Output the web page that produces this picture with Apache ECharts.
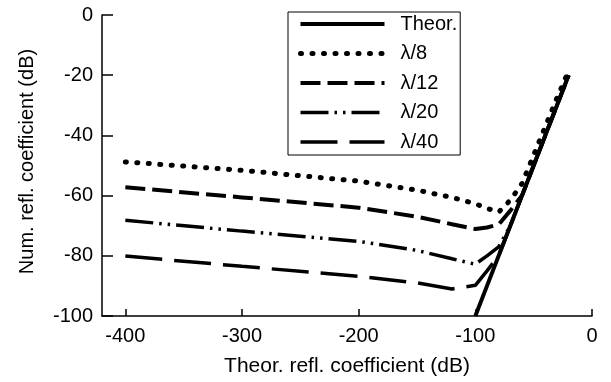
<!DOCTYPE html>
<html>
<head>
<meta charset="utf-8">
<title>refl. coefficient</title>
<script src="https://cdn.jsdelivr.net/npm/echarts@6/dist/echarts.min.js"></script>
<style>
    html, body { margin: 0; padding: 0; background: #fff; }
    #placeholder { width: 611px; height: 382px; }
</style>
</head>
<body>
<div id="placeholder"></div>
<script>
// theoretical refl. coefficient (dB), shared x for all curves
var xData = [-400, -300, -200, -150, -120, -100, -90, -80, -70, -60, -50, -40, -30, -20];
var theor = [null, null, null, null, null, -100, -90, -80, -70, -60, -50, -40, -30, -20];
var lambda8 = [-48.8, -51.6, -55.2, -58.2, -60.6, -62.7, -64.2, -65.5, -61.5, -56, -46.5, -37, -27.5, -18.5];
var lambda12 = [-57.2, -60.6, -64, -67, -69.5, -71.1, -70.6, -69.6, -65, -60, -50, -40, -30, -20];
var lambda20 = [-68.2, -71.8, -75.2, -78.2, -81, -82.8, -80, -77, -70, -60, -50, -40, -30, -20];
var lambda40 = [-80.1, -83.5, -86.8, -89, -91, -89.8, -85, -80, -70, -60, -50, -40, -30, -20];
var xTicks = [-400, -300, -200, -100, 0];
var seriesNames = ['Theor.', 'λ/8', 'λ/12', 'λ/20', 'λ/40'];

(function () {

    'use strict'

    var FONT = '"Liberation Sans", Arial, sans-serif';

    // line looks per name: width, dash, cap
    var looks = {
        'Theor.': { width: 4, type: 'solid', cap: 'butt' },
        'λ/8': { width: 5, type: [1, 10.5], cap: 'round' },
        'λ/12': { width: 4, type: [20, 7], cap: 'butt' },
        'λ/20': { width: 3.5, type: [28, 6, 2.5, 6, 2.5, 6], cap: 'butt' },
        'λ/40': { width: 3.5, type: [37, 12], cap: 'butt' }
    };

    function pairs(ys) {
        var out = [];
        xData.forEach(function (x, i) {
            out.push([x, ys[i]]);
        });
        return out;
    }

    function curve(name, ys) {
        var lk = looks[name];
        return {
            name: name,
            type: 'line',
            symbol: 'none',
            clip: false,
            data: pairs(ys),
            itemStyle: { color: '#000' },
            lineStyle: { color: '#000', width: lk.width, type: lk.type, cap: lk.cap },
            emphasis: { disabled: true }
        };
    }

    var legendData = seriesNames.map(function (n) {
        var lk = looks[n];
        return {
            name: n,
            itemStyle: { opacity: 0 },
            lineStyle: { color: '#000', width: lk.width, type: lk.type, cap: lk.cap }
        };
    });

    var myChart = echarts.init(document.getElementById('placeholder'));
    var option = {
        animation: false,
        backgroundColor: '#fff',
        textStyle: { fontFamily: FONT, color: '#000' },
        grid: { left: 102, right: 19, top: 15, bottom: 65 },
        legend: {
            orient: 'vertical',
            left: 288,
            top: 12,
            padding: [2, 3, 3, 10],
            borderColor: '#000',
            borderWidth: 1,
            itemWidth: 84,
            itemHeight: 20,
            itemGap: 9.5,
            selectedMode: false,
            data: legendData,
            textStyle: { fontSize: 20, color: '#000', fontFamily: FONT, padding: [0, 0, 0, 11] }
        },
        xAxis: {
            type: 'value',
            min: -420,
            max: 0,
            name: 'Theor. refl. coefficient (dB)',
            nameLocation: 'middle',
            nameGap: 40,
            nameTextStyle: { fontSize: 21, color: '#000', fontFamily: FONT },
            axisLine: { onZero: false, lineStyle: { color: '#000', width: 1.5 } },
            axisTick: { inside: true, length: 7, customValues: xTicks, lineStyle: { color: '#000', width: 1.5 } },
            axisLabel: { customValues: xTicks, fontSize: 20, color: '#000', margin: 10, fontFamily: FONT },
            splitLine: { show: false }
        },
        yAxis: {
            type: 'value',
            min: -100,
            max: 0,
            interval: 20,
            name: 'Num. refl. coefficient (dB)',
            nameLocation: 'middle',
            nameGap: 65,
            nameTextStyle: { fontSize: 20, color: '#000', fontFamily: FONT, padding: [0, 0, 0, 8] },
            axisLine: { show: true, onZero: false, lineStyle: { color: '#000', width: 1.5 } },
            axisTick: { show: true, inside: true, length: 11, lineStyle: { color: '#000', width: 1.5 } },
            axisLabel: { fontSize: 20, color: '#000', margin: 9, fontFamily: FONT },
            splitLine: { show: false }
        },
        series: [
            curve('λ/8', lambda8),
            curve('λ/12', lambda12),
            curve('λ/20', lambda20),
            curve('λ/40', lambda40),
            curve('Theor.', theor)
        ]
    };

    myChart.setOption(option);
})()
</script>
</body>
</html>
